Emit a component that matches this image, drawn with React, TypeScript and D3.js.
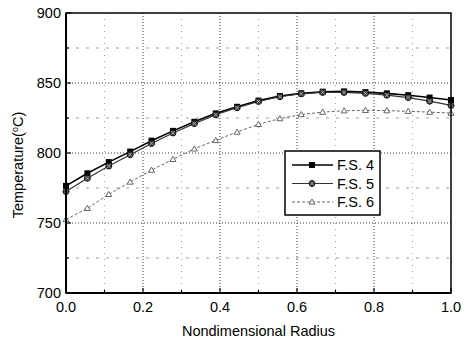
import React from "react";
import * as d3 from "d3";

const radius = d3.range(19).map((i) => i / 18);
const fs4 = [776.5, 785.5, 793.5, 801, 808.8, 815.8, 822.3, 828.3, 833, 837.4, 840.7, 842.6, 843.8, 844, 843.5, 842.6, 841.3, 839.6, 837.8];
const fs5 = [772.5, 782, 790.7, 798.8, 806.8, 814.3, 821, 827.3, 832.3, 836.8, 840.2, 842.3, 843.3, 843.3, 842.6, 841.3, 839.6, 837, 834];
const fs6 = [752.5, 760.5, 770.5, 779.3, 787.8, 795.5, 803, 809, 815, 820.5, 824.6, 827.5, 829.2, 830.2, 830.5, 830.3, 829.8, 829.2, 828.5];
const xTicks = [0, 0.2, 0.4, 0.6, 0.8, 1.0];
const xMinor = [0.1, 0.3, 0.5, 0.7, 0.9];
const yTicks = [700, 750, 800, 850, 900];
const yMinor = [725, 775, 825, 875];
const seriesNames = ["F.S. 4", "F.S. 5", "F.S. 6"];

const W = 469, H = 342;
const L = 66, R = 451, T = 13, B = 293;
const font = "'Liberation Sans', Arial, sans-serif";

function Marker({ kind, x, y }: { kind: number; x: number; y: number }) {
  if (kind === 0) return <rect x={x - 3} y={y - 3} width={6} height={6} fill="#000" />;
  if (kind === 1)
    return (
      <g>
        <circle cx={x} cy={y} r={3} fill="#444" stroke="#111" strokeWidth={1} />
        <path d={`M${x - 2},${y - 2}L${x + 2},${y + 2}M${x - 2},${y + 2}L${x + 2},${y - 2}`} stroke="#bbb" strokeWidth={0.7} />
      </g>
    );
  return <path d={`M${x},${y - 3}L${x + 3},${y + 2.2}L${x - 3},${y + 2.2}Z`} fill="#fff" stroke="#666" strokeWidth={1} />;
}

export default function App() {
  const x = d3.scaleLinear().domain([0, 1]).range([L, R]);
  const y = d3.scaleLinear().domain([700, 900]).range([B, T]);
  const line = d3.line<number>().x((_, i) => x(radius[i])).y((d) => y(d));
  const series = [fs4, fs5, fs6];
  const lineStyles = [
    { stroke: "#000", width: 1.6, dash: undefined as string | undefined },
    { stroke: "#333", width: 1.2, dash: undefined },
    { stroke: "#666", width: 1, dash: "3,2" },
  ];
  const lx = 285, ly = 151, lw = 95, lh = 64;
  return (
    <svg width={W} height={H} style={{ position: "absolute", left: 0, top: 0 }} fontFamily={font}>
      <rect width={W} height={H} fill="#fff" />
      {xMinor.map((v) => (
        <line key={"xm" + v} x1={x(v)} x2={x(v)} y1={T} y2={B} stroke="#888" strokeWidth={0.8} strokeDasharray="1,5" />
      ))}
      {yMinor.map((v) => (
        <line key={"ym" + v} x1={L} x2={R} y1={y(v)} y2={y(v)} stroke="#888" strokeWidth={0.8} strokeDasharray="3,7" />
      ))}
      {xTicks.slice(1, -1).map((v) => (
        <line key={"xg" + v} x1={x(v)} x2={x(v)} y1={T} y2={B} stroke="#222" strokeWidth={0.9} strokeDasharray="1,2" />
      ))}
      {yTicks.slice(1, -1).map((v) => (
        <line key={"yg" + v} x1={L} x2={R} y1={y(v)} y2={y(v)} stroke="#222" strokeWidth={0.9} strokeDasharray="1,2" />
      ))}
      {[...xTicks, ...xMinor].map((v) => (
        <line key={"xt" + v} x1={x(v)} x2={x(v)} y1={B} y2={B - (xTicks.includes(v) ? 5 : 3)} stroke="#000" strokeWidth={1.2} />
      ))}
      {[...yTicks, ...yMinor].map((v) => (
        <line key={"yt" + v} x1={L} x2={L + (yTicks.includes(v) ? 5 : 3)} y1={y(v)} y2={y(v)} stroke="#000" strokeWidth={1.2} />
      ))}
      {series.map((s, k) => (
        <path key={"l" + k} d={line(s) || ""} fill="none" stroke={lineStyles[k].stroke} strokeWidth={lineStyles[k].width} strokeDasharray={lineStyles[k].dash} />
      ))}
      {series.map((s, k) => (
        <g key={"m" + k}>
          {s.map((v, i) => (
            <Marker key={i} kind={k} x={x(radius[i])} y={y(v)} />
          ))}
        </g>
      ))}
      <rect x={L} y={T} width={R - L} height={B - T} fill="none" stroke="#000" strokeWidth={1.5} />
      <line x1={L} x2={L} y1={T} y2={B} stroke="#000" strokeWidth={2} />
      <line x1={L} x2={R} y1={B} y2={B} stroke="#000" strokeWidth={2} />
      {xTicks.map((v) => (
        <text key={"xl" + v} x={x(v)} y={312} textAnchor="middle" fontSize={14.5} fill="#000">
          {v.toFixed(1)}
        </text>
      ))}
      {yTicks.map((v) => (
        <text key={"yl" + v} x={61} y={y(v) + 5} textAnchor="end" fontSize={14.5} fill="#000">
          {v}
        </text>
      ))}
      <text x={(L + R) / 2} y={336} textAnchor="middle" fontSize={14.5} fill="#000">
        Nondimensional Radius
      </text>
      <text transform={`translate(23,165) rotate(-90)`} textAnchor="middle" fontSize={14.5} fill="#000">
        Temperature(<tspan fontSize={9} dy={-5}>o</tspan>
        <tspan dy={5}>C)</tspan>
      </text>
      <rect x={lx} y={ly} width={lw} height={lh} fill="#fff" stroke="#000" strokeWidth={1.5} />
      {seriesNames.map((n, k) => {
        const yy = ly + 14 + k * 18.5;
        return (
          <g key={"lg" + k}>
            <line x1={lx + 7} x2={lx + 48} y1={yy} y2={yy} stroke={lineStyles[k].stroke} strokeWidth={lineStyles[k].width} strokeDasharray={lineStyles[k].dash} />
            <Marker kind={k} x={lx + 27} y={yy} />
            <text x={lx + 52} y={yy + 5} fontSize={14.5} fill="#000">
              {n}
            </text>
          </g>
        );
      })}
    </svg>
  );
}
